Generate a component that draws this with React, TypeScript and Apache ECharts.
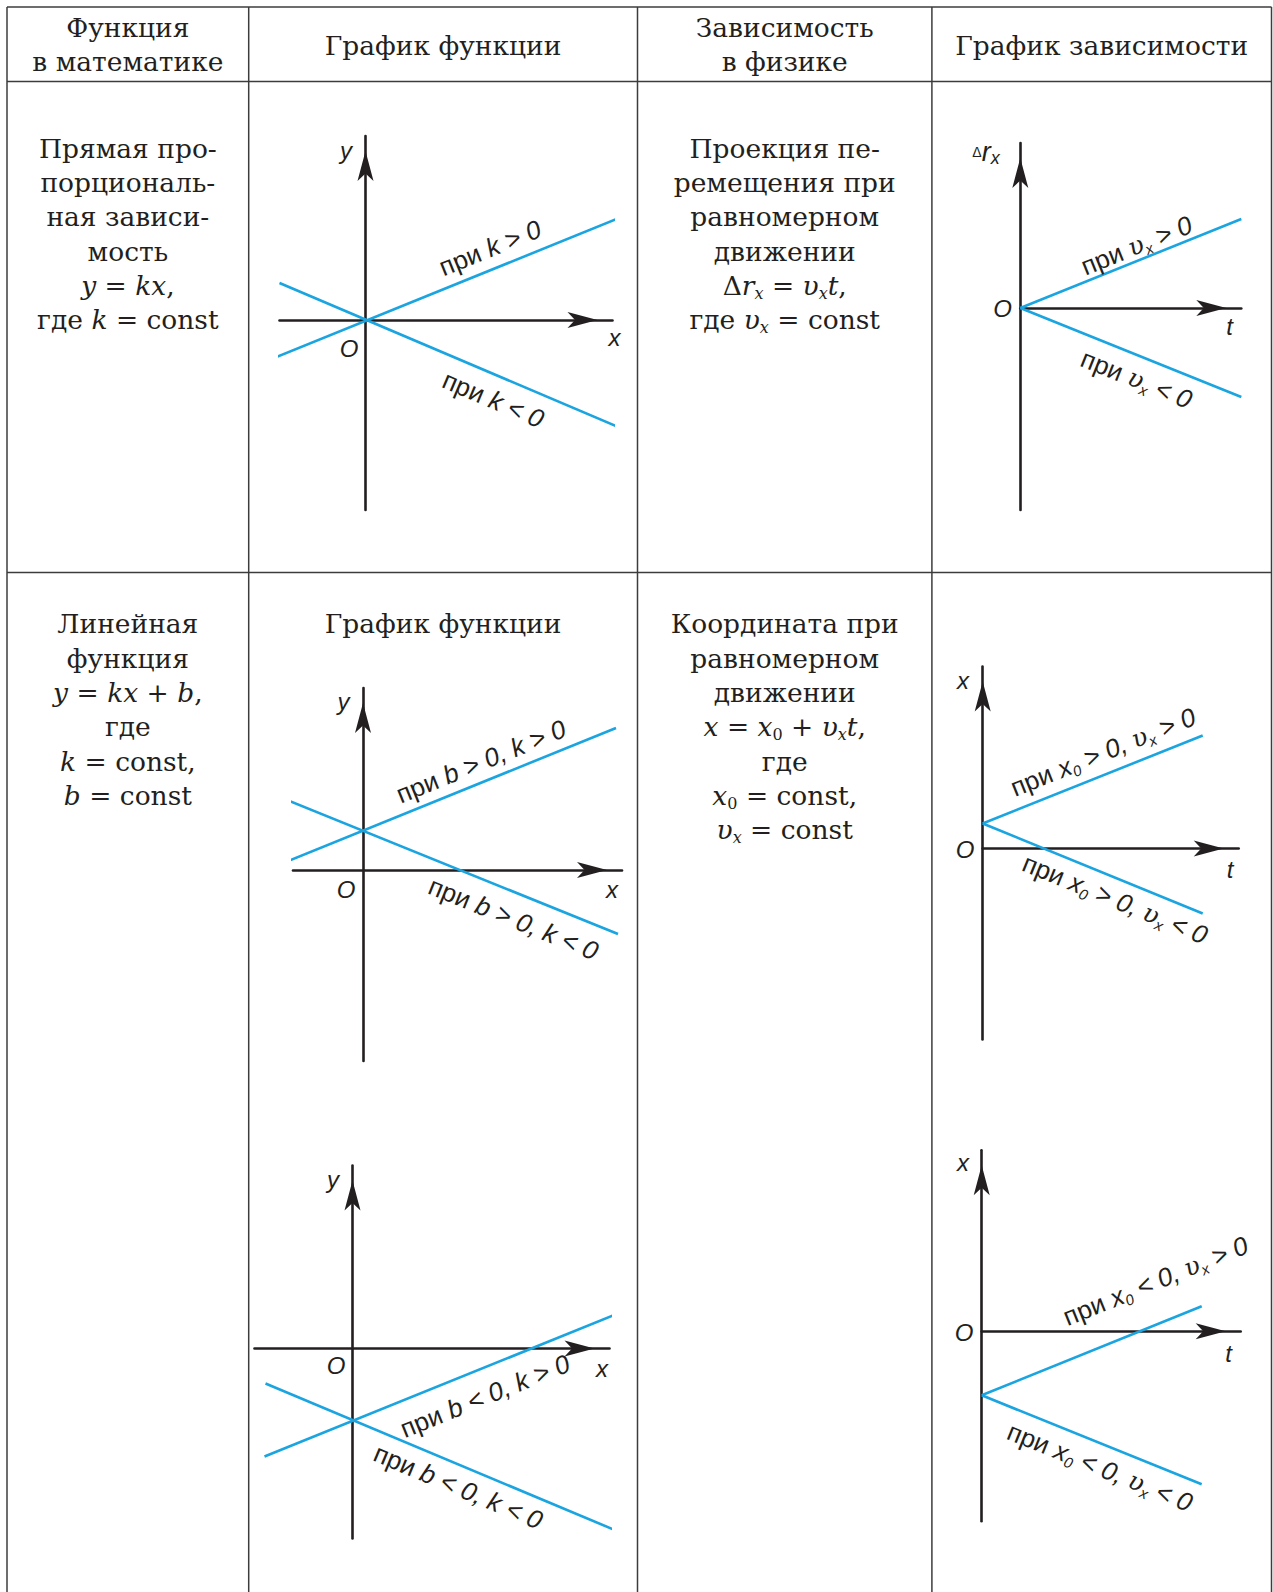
import React, { useEffect, useRef } from 'react';
import * as echarts from 'echarts';

// ---------- DATA (graph units: 1 unit = 10 px, origin at each graph's O) ----------
// Graph 1: y = kx
const g1X = [-8.6, 24.7];
const g1Y = [-19.0, 18.4];
const g1KPos = [[-8.9, -3.7], [26.1, 10.5]];
const g1KNeg = [[-8.6, 3.7], [26.2, -11.1]];
// Graph 2: Δr_x = v_x t
const g2T = [0, 22.1];
const g2R = [-20.2, 16.5];
const g2VPos = [[0, 0], [22.1, 8.9]];
const g2VNeg = [[0, 0], [22.1, -8.9]];
// Graph 3: y = kx + b, b > 0
const g3X = [-7.0, 25.9];
const g3Y = [-19.1, 18.2];
const g3Pos = [[-9.7, 0.0], [25.3, 14.2]];
const g3Neg = [[-9.6, 7.8], [25.5, -6.4]];
// Graph 4: y = kx + b, b < 0
const g4X = [-9.8, 25.7];
const g4Y = [-19.0, 18.3];
const g4Pos = [[-8.8, -10.8], [26.3, 3.4]];
const g4Neg = [[-8.7, -3.5], [26.1, -18.1]];
// Graph 5: x = x0 + v_x t, x0 > 0
const g5T = [0, 25.6];
const g5X = [-19.1, 18.2];
const g5Pos = [[0, 2.5], [22.0, 11.3]];
const g5Neg = [[0, 2.5], [22.0, -6.5]];
// Graph 6: x = x0 + v_x t, x0 < 0
const g6T = [0, 25.9];
const g6X = [-19.0, 18.1];
const g6Pos = [[0, -6.4], [22.0, 2.5]];
const g6Neg = [[0, -6.4], [22.0, -15.3]];

// ---------- TEXTS ----------
const headMath = ['Функция', 'в математике'];
const headGraph = ['График функции'];
const headPhys = ['Зависимость', 'в физике'];
const headDep = ['График зависимости'];
const row1Math = ['Прямая про-', 'порциональ-', 'ная зависи-', 'мость', '{i|y} = {i|kx},', 'где {i|k} = const'];
const row1Phys = ['Проекция пе-', 'ремещения при', 'равномерном', 'движении', 'Δ{i|r}{s|x} = {i|υ}{s|x}{i|t},', 'где {i|υ}{s|x} = const'];
const row2Math = ['Линейная', 'функция', '{i|y} = {i|kx} + {i|b},', 'где', '{i|k} = const,', '{i|b} = const'];
const row2Graph = ['График функции'];
const row2Phys = ['Координата при', 'равномерном', 'движении', '{i|x} = {i|x}{z|0} + {i|υ}{s|x}{i|t},', 'где', '{i|x}{z|0} = const,', '{i|υ}{s|x} = const'];

const lbl1 = ['{p|при }{i|k > 0}', '{p|при }{i|k < 0}'];
const lbl2 = ['{p|при }{u|υ}{s|x}{i| > 0}', '{p|при }{u|υ}{s|x}{i| < 0}'];
const lbl3 = ['{p|при }{i|b > 0, k > 0}', '{p|при }{i|b > 0, k < 0}'];
const lbl4 = ['{p|при }{i|b < 0, k > 0}', '{p|при }{i|b < 0, k < 0}'];
const lbl5 = ['{p|при }{i|x}{s|0}{i| > 0, }{u|υ}{s|x}{i| > 0}', '{p|при }{i|x}{s|0}{i| > 0, }{u|υ}{s|x}{i| < 0}'];
const lbl6 = ['{p|при }{i|x}{s|0}{i| < 0, }{u|υ}{s|x}{i| > 0}', '{p|при }{i|x}{s|0}{i| < 0, }{u|υ}{s|x}{i| < 0}'];

// ---------- LAYOUT & STYLE ----------
const W = 1273;
const H = 1592;
const U = 10;
const SERIF = '"DejaVu Serif", serif';
const SANS = '"Liberation Sans", Arial, sans-serif';
const TXT = '#231f20';
const AX = '#231f20';
const BLUE = '#1aa4e0';
const GRIDC = '#3c3c3c';
const FS = 26.5;
const LH = 32;
const SFS = 26;
const NFS = 24;

const colEdges = [7, 248.7, 637.5, 931.9, 1271.5];
const rowEdges = [7, 81.5, 572.6];
const colC = [0, 1, 2, 3].map((i) => (colEdges[i] + colEdges[i + 1]) / 2);

const cells = [
  { lines: headMath, x: colC[0], y0: 27.5, dy: 34 },
  { lines: headGraph, x: colC[1], y0: 45, dy: 0 },
  { lines: headPhys, x: colC[2], y0: 27.5, dy: 34 },
  { lines: headDep, x: colC[3], y0: 45, dy: 0 },
  { lines: row1Math, x: colC[0], y0: 148.6, dy: 34.15 },
  { lines: row1Phys, x: colC[2], y0: 148.6, dy: 34.15 },
  { lines: row2Math, x: colC[0], y0: 623.8, dy: 34.35 },
  { lines: row2Graph, x: colC[1], y0: 623.8, dy: 0 },
  { lines: row2Phys, x: colC[2], y0: 623.8, dy: 34.35 },
];

const graphs = [
  {
    origin: [365.5, 320], xr: g1X, yr: g1Y, lines: [g1KPos, g1KNeg], labels: lbl1,
    labelPos: [[490, 248], [493.3, 399.5]],
    names: [['{n|y}', 346, 150], ['{n|O}', 349, 348], ['{n|x}', 614.5, 337]],
  },
  {
    origin: [1020.3, 308], xr: g2T, yr: g2R, lines: [g2VPos, g2VNeg], labels: lbl2,
    labelPos: [[1136.5, 245.5], [1136.5, 379]],
    names: [['{d|Δ}{r|r}{q|x}', 986, 152], ['{n|O}', 1002.5, 308.5], ['{n|t}', 1229.5, 326.5]],
  },
  {
    origin: [363, 870], xr: g3X, yr: g3Y, lines: [g3Pos, g3Neg], labels: lbl3,
    labelPos: [[481, 761.5], [513.5, 918.5]],
    names: [['{n|y}', 343.5, 701], ['{n|O}', 346, 889], ['{n|x}', 612, 889.5]],
  },
  {
    origin: [352.5, 1348.5], xr: g4X, yr: g4Y, lines: [g4Pos, g4Neg], labels: lbl4,
    labelPos: [[485, 1396], [458.3, 1486.7]],
    names: [['{n|y}', 333, 1179], ['{n|O}', 336, 1365], ['{n|x}', 602, 1368]],
  },
  {
    origin: [982.7, 848.5], xr: g5T, yr: g5X, lines: [g5Pos, g5Neg], labels: lbl5,
    labelPos: [[1103, 752], [1115, 899]],
    names: [['{n|x}', 963, 680], ['{n|O}', 965, 849.5], ['{n|t}', 1230, 869.5]],
  },
  {
    origin: [981.7, 1331.3], xr: g6T, yr: g6X, lines: [g6Pos, g6Neg], labels: lbl6,
    labelPos: [[1155.5, 1281], [1100, 1467]],
    names: [['{n|x}', 963, 1162], ['{n|O}', 964, 1332], ['{n|t}', 1228.5, 1353.5]],
  },
];

const serifRich: any = {
  i: { fontFamily: SERIF, fontStyle: 'italic', fontSize: FS, lineHeight: LH, fill: TXT },
  s: { fontFamily: SERIF, fontStyle: 'italic', fontSize: 16, lineHeight: 17, verticalAlign: 'bottom', fill: TXT },
  z: { fontFamily: SERIF, fontSize: 16, lineHeight: 17, verticalAlign: 'bottom', fill: TXT },
};
const sansRich: any = {
  p: { fontFamily: SANS, fontSize: SFS, lineHeight: 30, fill: TXT },
  i: { fontFamily: SANS, fontStyle: 'italic', fontSize: SFS, lineHeight: 30, fill: TXT },
  u: { fontFamily: SERIF, fontStyle: 'italic', fontSize: SFS - 1, lineHeight: 30, fill: TXT },
  n: { fontFamily: SANS, fontStyle: 'italic', fontSize: NFS, lineHeight: 30, fill: TXT },
  s: { fontFamily: SANS, fontStyle: 'italic', fontSize: 15, lineHeight: 16, verticalAlign: 'bottom', fill: TXT },
  d: { fontFamily: SANS, fontSize: 14, lineHeight: 30, fill: TXT },
  r: { fontFamily: SANS, fontStyle: 'italic', fontSize: 27, lineHeight: 30, fill: TXT },
  q: { fontFamily: SANS, fontStyle: 'italic', fontSize: 18, lineHeight: 19, verticalAlign: 'bottom', fill: TXT },
};

function buildOption() {
  const grid: any[] = [];
  const xAxis: any[] = [];
  const yAxis: any[] = [];
  const series: any[] = [];
  const graphic: any[] = [];

  const axisCommon = (i: number, range: number[]) => ({
    type: 'value',
    gridIndex: i,
    min: range[0],
    max: range[1],
    axisLine: {
      show: true,
      onZero: true,
      lineStyle: { color: AX, width: 2.6 },
      symbol: ['none', 'arrow'],
      symbolSize: [12, 30],
      symbolOffset: [0, -15],
    },
    axisTick: { show: false },
    axisLabel: { show: false },
    splitLine: { show: false },
    splitArea: { show: false },
  });

  graphs.forEach((g, i) => {
    grid.push({
      left: g.origin[0] + g.xr[0] * U,
      top: g.origin[1] - g.yr[1] * U,
      width: (g.xr[1] - g.xr[0]) * U,
      height: (g.yr[1] - g.yr[0]) * U,
      containLabel: false,
      outerBoundsMode: 'none',
    });
    xAxis.push(axisCommon(i, g.xr));
    yAxis.push(axisCommon(i, g.yr));
    g.lines.forEach((ln) => {
      series.push({
        type: 'line',
        xAxisIndex: i,
        yAxisIndex: i,
        data: ln,
        symbol: 'none',
        showSymbol: false,
        clip: false,
        silent: true,
        lineStyle: { color: BLUE, width: 2.6 },
        z: 3,
      });
    });
    g.labels.forEach((txt, k) => {
      const ln = g.lines[k];
      const rot = Math.atan2(ln[1][1] - ln[0][1], ln[1][0] - ln[0][0]);
      graphic.push({
        type: 'text',
        x: g.labelPos[k][0],
        y: g.labelPos[k][1],
        rotation: rot,
        z: 100,
        silent: true,
        style: {
          text: txt, rich: sansRich, fontFamily: SANS, fontSize: SFS, lineHeight: 30,
          fill: TXT, align: 'center', verticalAlign: 'middle',
        },
      });
    });
    g.names.forEach((n) => {
      graphic.push({
        type: 'text',
        x: n[1] as number,
        y: n[2] as number,
        z: 100,
        silent: true,
        style: {
          text: n[0] as string, rich: sansRich, fontFamily: SANS, fontSize: NFS, lineHeight: 30,
          fill: TXT, align: 'center', verticalAlign: 'middle',
        },
      });
    });
  });

  // table lines
  rowEdges.forEach((y) => {
    graphic.push({
      type: 'line', z: 50, silent: true,
      shape: { x1: colEdges[0], y1: y, x2: colEdges[colEdges.length - 1], y2: y },
      style: { stroke: GRIDC, lineWidth: 1.5 },
    });
  });
  colEdges.forEach((x) => {
    graphic.push({
      type: 'line', z: 50, silent: true,
      shape: { x1: x, y1: rowEdges[0], x2: x, y2: H },
      style: { stroke: GRIDC, lineWidth: 1.5 },
    });
  });

  // table texts
  cells.forEach((c) => {
    c.lines.forEach((t, k) => {
      graphic.push({
        type: 'text',
        x: c.x,
        y: c.y0 + k * c.dy,
        z: 100,
        silent: true,
        style: {
          text: t, rich: serifRich, fontFamily: SERIF, fontSize: FS, lineHeight: LH,
          fill: TXT, align: 'center', verticalAlign: 'middle',
        },
      });
    });
  });

  return {
    animation: false,
    backgroundColor: '#ffffff',
    tooltip: { show: false },
    grid,
    xAxis,
    yAxis,
    series,
    graphic,
  };
}

export default function App() {
  const ref = useRef<HTMLDivElement>(null);
  useEffect(() => {
    if (!ref.current) return;
    const chart = echarts.init(ref.current, null, { renderer: 'svg', width: W, height: H });
    chart.setOption(buildOption() as any);
    return () => chart.dispose();
  }, []);
  return (
    <div
      ref={ref}
      style={{ position: 'absolute', left: 0, top: 0, width: W, height: H, background: '#fff' }}
    />
  );
}
